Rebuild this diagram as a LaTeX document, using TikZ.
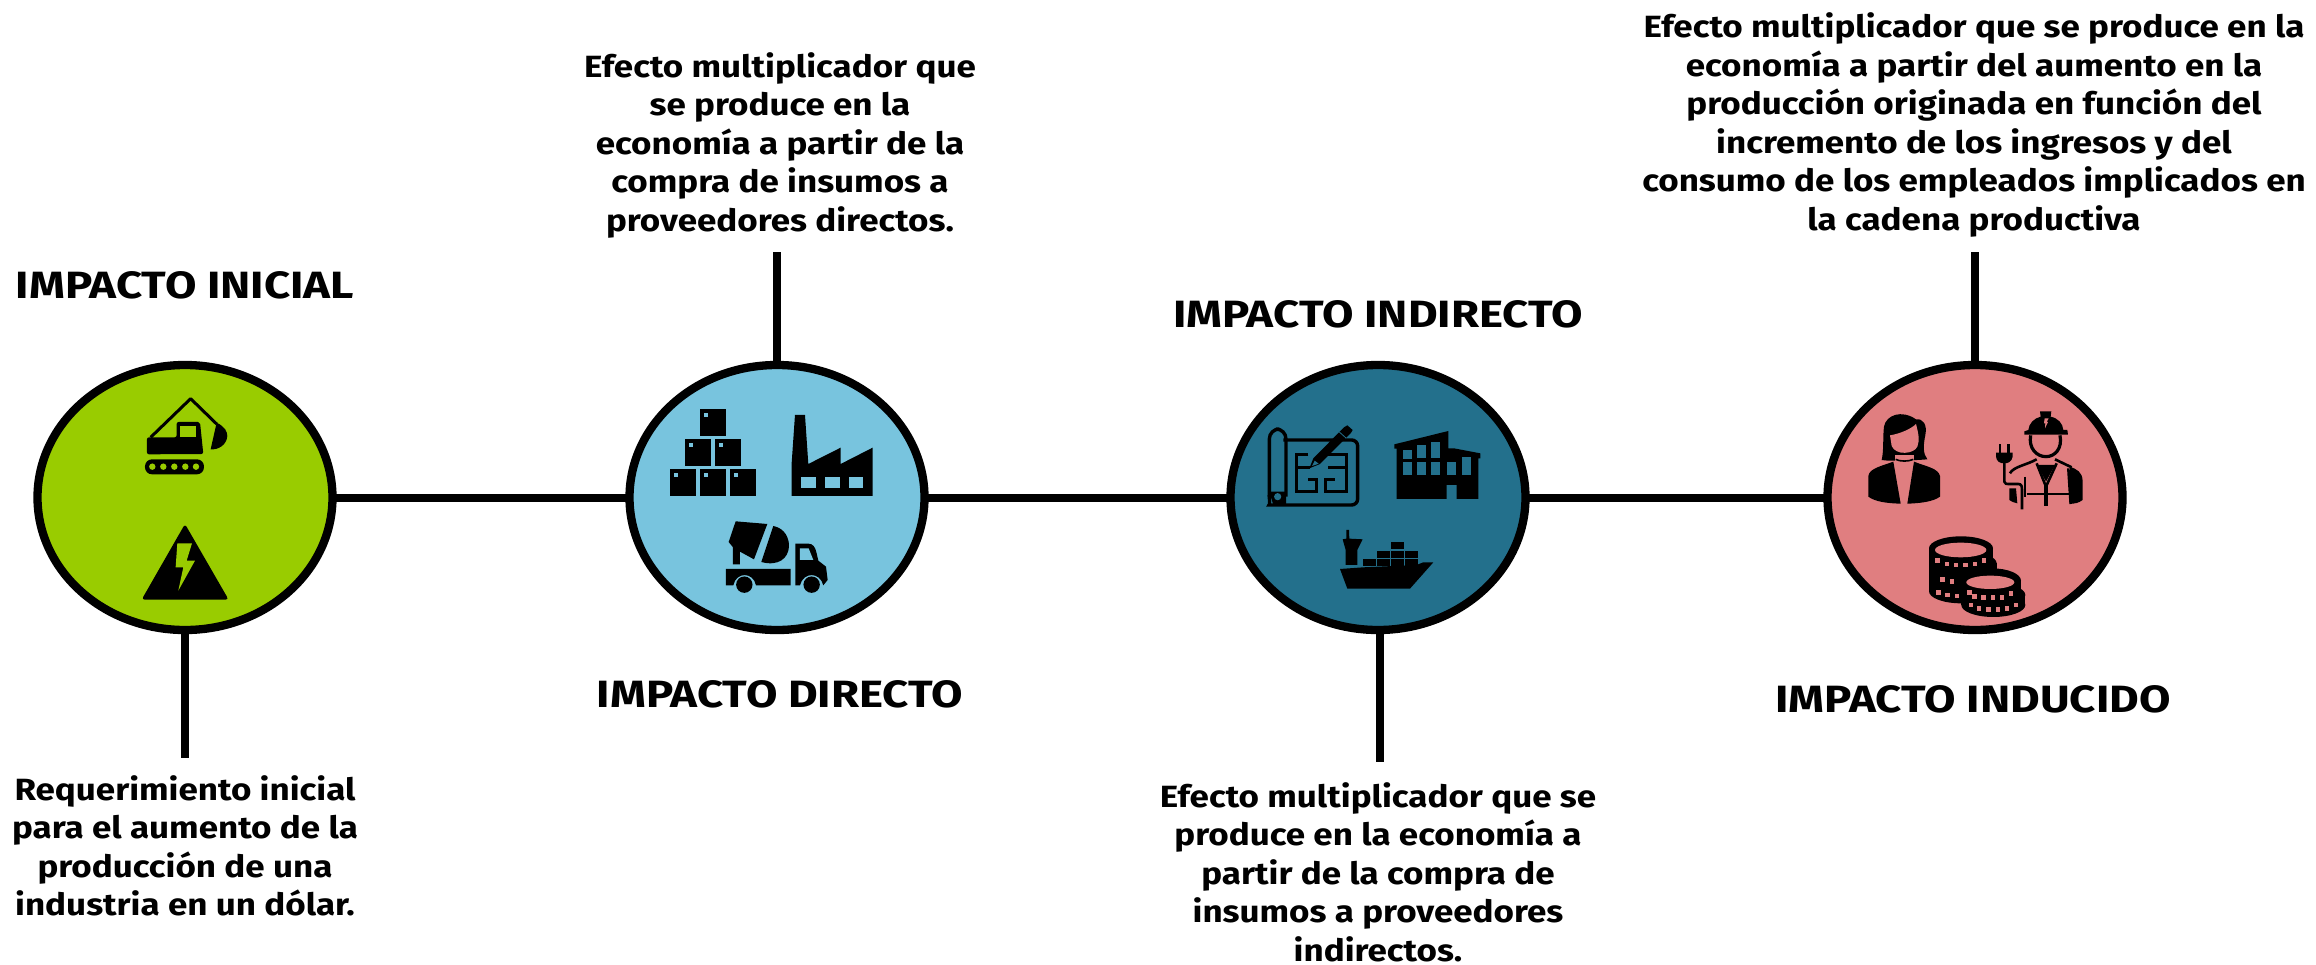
\documentclass[tikz,border=0pt]{standalone}
\usepackage{fontspec}
\setmainfont{Fira Sans}
\newfontfamily\descfont{Fira Sans}[FakeStretch=1.14,BoldFont={Fira Sans Bold}]
\newfontfamily\headfont{Fira Sans}[FakeStretch=1.2]
\usetikzlibrary{shapes.geometric}
\definecolor{cgreen}{HTML}{99CC00}
\definecolor{cblue}{HTML}{78C4DE}
\definecolor{cteal}{HTML}{23708C}
\definecolor{cpink}{HTML}{E07E80}
\tikzset{
 x=1pt,y=-1pt,
 stage/.style={ellipse,draw=black,line width=8.3pt,minimum width=295pt,minimum height=265pt,inner sep=0pt,outer sep=0pt},
 wire/.style={line width=8pt,draw=black},
 desc/.style={align=center,font=\fontsize{30.7}{38.5}\descfont\bfseries,inner sep=0pt},
 head/.style={font=\fontsize{38}{42}\headfont\bfseries,inner sep=0pt},
 icon/.style={fill=black,draw=none},
 zoomed/.style={x=0.3333pt,y=-0.3333pt},
}
\newcommand{\coinstack}[6]{% cx, ytop, ybottom, rx, ry, colour
 \fill[#6] (#1,#2) ellipse[x radius=#4,y radius=#5];
 \fill[#6] (#1,#3) ellipse[x radius=#4,y radius=#5];
 \fill[#6] (#1-#4,#2) rectangle (#1+#4,#3);
}
\begin{document}
\begin{tikzpicture}
\useasboundingbox (0,0) rectangle (2316,964);
\coordinate (end1) at (185,758);
\coordinate (end2) at (777,252);
\coordinate (end3) at (1380,762);
\coordinate (end4) at (1975,252);
\node[stage,fill=cgreen] (c1) at (185,497.5) {};
\node[stage,fill=cblue] (c2) at (777,497.5) {};
\node[stage,fill=cteal] (c3) at (1378,497.5) {};
\node[stage,fill=cpink] (c4) at (1975,497.5) {};
\draw[wire] (c1) -- (c2);
\draw[wire] (c2) -- (c3);
\draw[wire] (c3) -- (c4);
\draw[wire] (c1.south) -- (end1);
\draw[wire] (c2.north) -- (end2);
\draw[wire] (c3.south -| end3) -- (end3);
\draw[wire] (c4.north) -- (end4);
\node[head] (h1) at (185,285) {IMPACTO INICIAL};
\node[head] (h2) at (780,694) {IMPACTO DIRECTO};
\node[head] (h3) at (1378,314) {IMPACTO INDIRECTO};
\node[head] (h4) at (1973,699) {IMPACTO INDUCIDO};
\node[desc] (d1) at (185,846) {Requerimiento inicial\\para el aumento de la\\producción de una\\industria en un dólar.};
\node[desc] (d2) at (780,145) {Efecto multiplicador que\\se produce en la\\economía a partir de la\\compra de insumos a\\proveedores directos.};
\node[desc] (d3) at (1378,872) {Efecto multiplicador que se\\produce en la economía a\\partir de la compra de\\insumos a proveedores\\indirectos.};
\node[desc] (d4) at (1974,125) {Efecto multiplicador que se produce en la\\economía a partir del aumento en la\\producción originada en función del\\incremento de los ingresos y del\\consumo de los empleados implicados en\\la cadena productiva};
% --- icons, traced in 3x crop coordinates ---
\begin{scope}[shift={(20,350)},zoomed]
 \draw[line width=3pt,line join=round] (392,262) -- (512,146) -- (590,222);
 \fill[icon] (590,218) .. controls (615,230) and (622,245) .. (622,258) .. controls (620,285) and (595,300) .. (572,298) -- cycle;
 \fill[icon,rounded corners=2pt] (381,262) -- (470,262) -- (470,216) -- (540,216) -- (550,312) -- (381,313) -- cycle;
 \fill[cgreen] (481,229) rectangle (528,262);
 \fill[icon,rounded corners=7pt] (375,328) rectangle (552,373);
 \foreach \xx in {397,430,463,496,528} \fill[cgreen] (\xx,350) circle[radius=3.2pt];
 \fill[icon,rounded corners=3pt] (495,522) -- (626,749) -- (365,749) -- cycle;
 \fill[cgreen] (472,580) -- (516,580) -- (500,632) -- (525,632) -- (475,722) -- (490,652) -- (467,652) -- cycle;
\end{scope}
\begin{scope}[shift={(620,350)},zoomed]
 \foreach \bx/\by in {241/178,196/268,286/268,151/358,241/358,331/358}{
  \fill[icon] (\bx,\by) rectangle ++(78,80);
  \fill[cblue] (\bx+11,\by+11) rectangle ++(13,13);
 }
 \fill[icon] (515,438) -- (515,340) -- (525,195) -- (555,195) -- (565,342) -- (662,293) -- (662,342) -- (758,293) -- (758,438) -- cycle;
 \foreach \wx in {543,615,686} \fill[cblue] (\wx,382) rectangle ++(44,32);
 \fill[icon] (347,514) -- (442,522) -- (402,628) -- (360,605) -- (360,643) -- (339,643) -- (339,592) -- (326,576) -- cycle;
 \fill[icon] (460,528) .. controls (495,535) and (508,565) .. (507,590) .. controls (505,625) and (475,650) .. (424,636) -- cycle;
 \fill[icon] (318,657) -- (512,657) -- (512,706) -- (408,706) .. controls (400,665) and (348,665) .. (340,706) -- (318,706) -- cycle;
 \fill[icon] (373,704) circle[radius=8.2pt];
 \fill[icon] (526,706) -- (526,581) -- (565,581) .. controls (578,581) and (586,590) .. (590,610) -- (595,632) -- (618,650) -- (623,690) -- (610,706) .. controls (600,665) and (550,665) .. (540,706) -- cycle;
 \fill[cblue] (540,595) -- (566,595) -- (580,630) -- (540,630) -- cycle;
 \fill[icon] (575,704) circle[radius=8.2pt];
\end{scope}
\begin{scope}[shift={(1220,350)},zoomed]
 % blueprint
 \draw[line width=3.4pt,rounded corners=6pt] (190,270) -- (413,270) -- (413,465) -- (165,465) .. controls (150,465) and (148,450) .. (148,435);
 \draw[line width=3.4pt,rounded corners=10pt] (148,440) -- (148,237) -- (198,237) -- (198,440);
 \fill[icon] (148,425) -- (198,425) -- (198,465) -- (160,465) -- cycle;
 \fill[cteal] (173,440) circle[radius=3.6pt];
 \fill[cteal,rounded corners=3pt] (161,255) rectangle (184,412);
 \draw[line width=3pt] (265,315) -- (230,315) -- (230,425) -- (290,425) -- (290,390) -- (265,390);
 \draw[line width=3pt] (230,352) -- (270,352);
 \draw[line width=3pt] (320,315) -- (378,315) -- (378,425) -- (315,425) -- (315,390) -- (345,390);
 \draw[line width=3pt] (378,352) -- (325,352);
 \draw[cteal,line width=7pt] (275,345) -- (385,238);
 \fill[icon] (268,355) -- (280,325) -- (372,232) -- (382,226) -- (398,240) -- (392,250) -- (300,342) -- cycle;
 \draw[cteal,line width=.8pt] (358,246) -- (378,264);
 \fill[cteal] (276,348) -- (284,332) -- (296,341) -- cycle;
 % building
 \fill[icon] (523,283) -- (685,243) -- (685,295) -- (702,295) -- (781,310) -- (781,325) -- (775,325) -- (775,447) -- (710,447) -- (710,405) -- (680,405) -- (680,447) -- (530,447) -- (530,296) -- (523,296) -- cycle;
 \foreach \gx/\gy/\gw/\gh in {548/300/28/27,548/337/28/38,590/285/28/40,590/337/28/38,632/275/29/48,632/337/29/38,680/337/29/38,726/320/28/55}
   \fill[cteal] (\gx,\gy) rectangle ++(\gw,\gh);
 % ship
 \fill[icon] (379,540) -- (387,540) -- (388,566) -- (428,568) -- (412,600) -- (412,645) -- (377,645) -- (377,600) -- (368,568) -- (379,566) -- cycle;
 \fill[icon] (360,657) -- (430,652) -- (590,645) -- (610,637) -- (640,637) -- (570,716) -- (382,716) -- cycle;
 \foreach \bx/\by/\bw in {429/627/40,471/627/40,513/627/40,555/627/38,471/603/40,513/603/40,555/603/38,513/576/39}
   \fill[icon] (\bx,\by) rectangle ++(\bw,21);
\end{scope}
\begin{scope}[shift={(1810,350)},zoomed]
 % woman
 \fill[icon] (215,330) .. controls (222,300) and (218,260) .. (222,230) .. controls (228,195) and (275,178) .. (318,208) .. controls (340,205) and (352,225) .. (346,255) .. controls (340,285) and (338,310) .. (352,328) .. controls (330,330) and (240,335) .. (215,330) -- cycle;
 \fill[cpink] (240,256) .. controls (275,250) and (305,235) .. (318,222) .. controls (325,250) and (330,270) .. (322,290) .. controls (312,312) and (258,318) .. (245,288) -- cycle;
 \fill[cpink] (255,316) -- (312,316) -- (312,340) -- (255,340) -- cycle;
 \draw[line width=1.6pt] (257,328) .. controls (270,335) and (296,335) .. (310,328);
 \fill[icon] (175,378) .. controls (178,355) and (215,348) .. (250,335) -- (272,461) .. controls (230,460) and (195,455) .. (175,440) -- cycle;
 \fill[icon] (312,335) .. controls (350,350) and (385,355) .. (390,378) -- (390,440) .. controls (370,455) and (330,460) .. (292,461) -- cycle;
 % worker
 \fill[icon] (690,184) -- (724,184) -- (722,200) .. controls (745,205) and (758,220) .. (760,240) -- (772,240) -- (774,254) -- (643,254) -- (643,244) -- (655,240) .. controls (657,220) and (672,205) .. (692,200) -- cycle;
 \fill[cpink] (704,205) -- (716,205) -- (710,216) -- (714,216) -- (705,235) -- (706,220) -- (702,220) -- cycle;
 \draw[line width=3.2pt] (662,256) .. controls (655,295) and (680,320) .. (708,320) .. controls (735,320) and (758,295) .. (750,256);
 \fill[icon] (780,350) .. controls (800,358) and (818,365) .. (818,395) -- (818,450) .. controls (805,460) and (795,460) .. (780,462) -- cycle;
 \fill[icon] (682,345) -- (735,345) -- (708,395) -- cycle;
 \draw[line width=2.6pt] (600,370) .. controls (610,350) and (650,345) .. (680,328);
 \draw[line width=2.6pt] (735,328) -- (785,352);
 \draw[line width=2.6pt] (680,340) -- (708,410) -- (740,340);
 \draw[line width=2.6pt] (645,380) -- (645,440);
 \draw[line width=2.6pt] (775,355) -- (782,462);
 \draw[line width=4pt] (708,400) -- (708,468);
 \draw[line width=2.6pt] (650,432) -- (782,432);
 % plug
 \draw[line width=2.6pt] (583,330) -- (583,395) .. controls (583,402) and (590,402) .. (600,402) -- (625,402) .. controls (635,402) and (636,410) .. (636,420) -- (636,478);
 \fill[icon] (558,308) -- (608,308) -- (608,320) .. controls (605,335) and (595,340) .. (583,340) .. controls (570,340) and (560,335) .. (558,320) -- cycle;
 \fill[icon] (566,283) rectangle (574,310);
 \fill[icon] (592,283) rectangle (600,310);
 \fill[icon] (598,415) -- (618,415) -- (622,460) .. controls (612,458) and (604,455) .. (598,450) -- cycle;
 % coins: back stack
 \coinstack{453}{595}{724}{96}{36}{black}
 \coinstack{460}{640}{680}{100}{36}{black}
 \fill[cpink] (452,600) ellipse[x radius=77,y radius=22];
 \foreach \cx/\cy in {382/632,410/642,438/645,466/645,494/642,522/632,397/688,425/695,385/728,412/735,440/738}
   \fill[cpink] (\cx-6,\cy-7) rectangle ++(13,14);
 % coins: front stack
 \coinstack{545}{692}{722}{88}{37}{black}
 \coinstack{550}{735}{765}{96}{36}{black}
 \fill[cpink] (541,697) ellipse[x radius=72,y radius=20];
 \foreach \cx/\cy in {478/728,493/740,520/743,548/743,575/742,603/730,482/765,507/776,535/778,563/778,590/775,618/765}
   \fill[cpink] (\cx-6,\cy-7) rectangle ++(13,14);
\end{scope}
\end{tikzpicture}
\end{document}
